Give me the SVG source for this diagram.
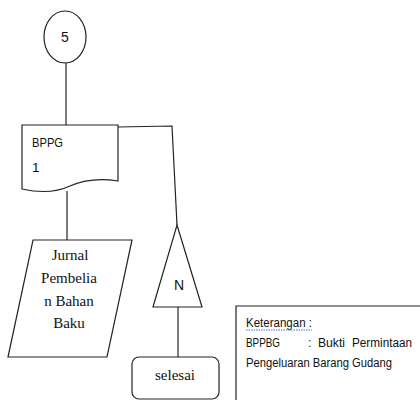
<svg xmlns="http://www.w3.org/2000/svg" width="420" height="400" viewBox="0 0 420 400">
<style>
.s{fill:#fff;stroke:#222;stroke-width:1.2}
.c{fill:none;stroke:#222;stroke-width:1.2}
.sans{font-family:"Liberation Sans","DejaVu Sans",sans-serif;fill:#111}
.serif{font-family:"Liberation Serif","DejaVu Serif",serif;fill:#111;font-size:15px;text-anchor:middle}
</style>
<rect width="420" height="400" fill="#fff"/>
<g id="connectors">
<path class="c" d="M66,63 V125"/>
<path class="c" d="M118,127 L172,126 L177,225"/>
<path class="c" d="M67,191 V240"/>
<path class="c" d="M178,307 V357"/>
</g>
<g id="n5">
<ellipse class="s" cx="65" cy="37" rx="21" ry="26"/>
<text class="sans" x="65" y="42" font-size="14" text-anchor="middle">5</text>
</g>
<g id="bppg">
<path class="s" d="M22,125 H118 V181 C100,178 86,179 70,186 C55,193 40,193 22,189 Z"/>
<text class="sans" x="32" y="147" font-size="13.5" textLength="31" lengthAdjust="spacingAndGlyphs">BPPG</text>
<text class="sans" x="32" y="172" font-size="13.5">1</text>
</g>
<g id="jurnal">
<path class="s" d="M33,240 H132 L107,357 H8 Z"/>
<text class="serif" x="70" y="260">Jurnal</text>
<text class="serif" x="69" y="283">Pembelia</text>
<text class="serif" x="69" y="306">n Bahan</text>
<text class="serif" x="69" y="328">Baku</text>
</g>
<g id="offpage">
<path class="s" d="M177,225 L202,307 H153 Z"/>
<text class="sans" x="179" y="290" font-size="14" text-anchor="middle">N</text>
</g>
<g id="selesai">
<rect class="s" x="132" y="357" width="87" height="42" rx="7"/>
<text class="serif" x="175" y="380">selesai</text>
</g>
<g id="keterangan">
<path class="s" d="M421,306 H236 V402"/>
<text class="sans" x="246" y="327" font-size="12" textLength="66" lengthAdjust="spacingAndGlyphs">Keterangan :</text>
<path d="M246,330 h66" stroke="#4a6fd6" stroke-width="1" stroke-dasharray="1.5,1" fill="none"/>
<text class="sans" x="246" y="347" font-size="12" textLength="34" lengthAdjust="spacingAndGlyphs">BPPBG</text>
<text class="sans" x="308" y="347" font-size="12">:</text>
<text class="sans" x="318" y="347" font-size="12" textLength="27" lengthAdjust="spacingAndGlyphs">Bukti</text>
<text class="sans" x="352" y="347" font-size="12" textLength="60" lengthAdjust="spacingAndGlyphs">Permintaan</text>
<text class="sans" x="246" y="367" font-size="12" textLength="146" lengthAdjust="spacingAndGlyphs">Pengeluaran Barang Gudang</text>
</g>
</svg>
